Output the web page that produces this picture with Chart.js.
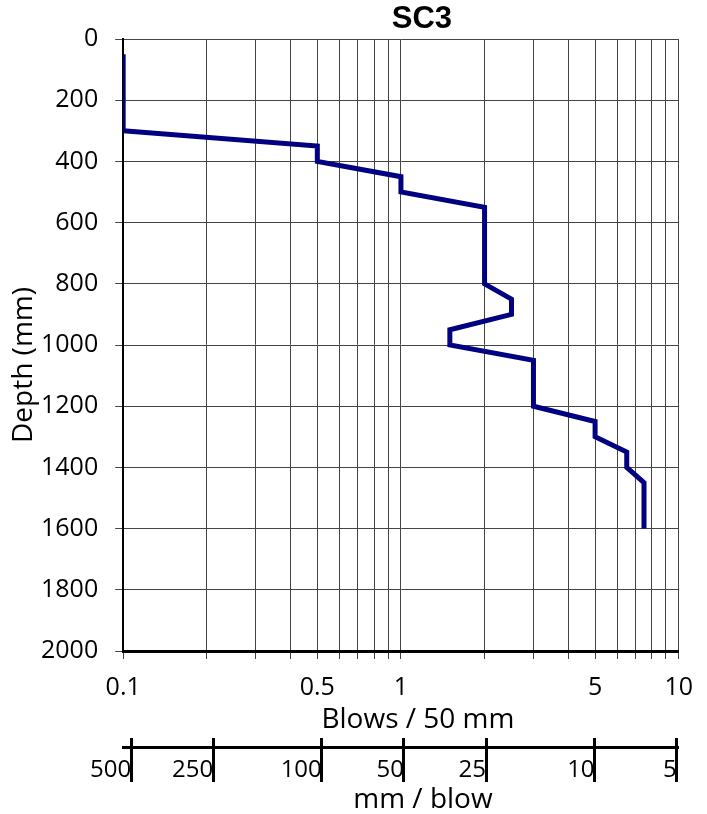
<!DOCTYPE html>
<html>
<head>
<meta charset="utf-8">
<script src="https://cdn.jsdelivr.net/npm/chart.js@4.4.1/dist/chart.umd.min.js"></script>
<style>
  html, body { margin: 0; padding: 0; background: #fff; }
  #wrap { width: 707px; height: 814px; }
</style>
</head>
<body>
<div id="wrap"><canvas id="dcpChart"></canvas></div>
<script>
// DCP test SC3 - blows per 50 mm against depth
const blows = [0.1, 0.1, 0.5, 0.5, 1, 1, 2, 2, 2.5, 2.5, 1.5, 1.5, 3, 3, 5, 5, 6.5, 6.5, 7.5, 7.5];
const depths = [50, 300, 350, 400, 450, 500, 550, 800, 850, 900, 950, 1000, 1050, 1200, 1250, 1300, 1350, 1400, 1450, 1600];

// log grid lines and the labelled ones
const blowGrid = [0.1, 0.2, 0.3, 0.4, 0.5, 0.6, 0.7, 0.8, 0.9, 1, 2, 3, 4, 5, 6, 7, 8, 9, 10];
const blowLabels = [0.1, 0.5, 1, 5, 10];

// second scale: mm per blow (= 50 / blows)
const mmTickValues = [0.1, 0.2, 0.5, 1, 2, 5, 10];
const mmTickLabels = ['500', '250', '100', '50', '25', '10', '5'];

const FONT = "'Open Sans', 'Noto Sans', sans-serif";

// the original puts its titles a little off-centre
const titleOffsets = { x: [17, 0], x2: [22, 0], y: [0, 20] };

const titleNudge = {
  id: 'titleNudge',
  afterLayout(chart) {
    const t = chart.titleBlock;
    if (t) { t.left += 21; t.right += 21; }
    Object.keys(titleOffsets).forEach(id => {
      const s = chart.scales[id];
      if (!s || s._nudged) return;
      const orig = s.drawTitle.bind(s);
      const [dx, dy] = titleOffsets[id];
      s.drawTitle = function () {
        this.ctx.save();
        this.ctx.translate(dx, dy);
        orig();
        this.ctx.restore();
      };
      s._nudged = true;
    });
  }
};

const ctx = document.getElementById('dcpChart').getContext('2d');
const chart = new Chart(ctx, {
  type: 'line',
  data: {
    datasets: [{
      label: 'SC3',
      data: blows.map((b, i) => ({ x: b, y: depths[i] })),
      borderColor: '#000080',
      borderWidth: 5,
      pointRadius: 0,
      tension: 0,
      fill: false,
      xAxisID: 'x',
      yAxisID: 'y'
    }]
  },
  options: {
    responsive: true,
    maintainAspectRatio: false,
    animation: false,
    layout: { padding: { left: 0, right: 28, top: 0, bottom: 0 } },
    plugins: {
      legend: { display: false },
      tooltip: { enabled: false },
      title: {
        display: true,
        text: 'SC3',
        fullSize: false,
        color: '#000',
        font: { family: "'Liberation Sans', Arial, sans-serif", size: 31, weight: 'bold', lineHeight: 1 },
        padding: { top: 4, bottom: 4 }
      }
    },
    scales: {
      y: {
        type: 'linear',
        reverse: true,
        min: 0,
        max: 2000,
        ticks: {
          stepSize: 200,
          color: '#000',
          padding: 17,
          font: { family: FONT, size: 25 },
          callback: v => String(v)
        },
        grid: { color: '#444', tickLength: 8 },
        border: { color: '#000', width: 2 },
        title: {
          display: true,
          text: 'Depth (mm)',
          color: '#000',
          font: { family: FONT, size: 28, lineHeight: 1 },
          padding: { top: 10, bottom: -14 }
        }
      },
      x: {
        type: 'logarithmic',
        position: 'bottom',
        weight: 0,
        min: 0.1,
        max: 10,
        afterBuildTicks: s => { s.ticks = blowGrid.map(v => ({ value: v })); },
        ticks: {
          autoSkip: false,
          maxRotation: 0,
          color: '#000',
          padding: 14,
          font: { family: FONT, size: 25 },
          callback: v => blowLabels.some(b => Math.abs(b - v) < 1e-9) ? String(v) : ''
        },
        grid: { color: '#444', tickLength: 8 },
        border: { color: '#000', width: 3 },
        title: {
          display: true,
          text: 'Blows / 50 mm',
          color: '#000',
          font: { family: FONT, size: 28, lineHeight: 1 },
          padding: { top: -11, bottom: 4 }
        }
      },
      x3: {
        type: 'logarithmic',
        position: 'bottom',
        weight: 1,
        min: 0.0935,
        max: 10.17,
        afterBuildTicks: s => { s.ticks = mmTickValues.map(v => ({ value: v })); },
        ticks: { display: false },
        grid: { drawOnChartArea: false, tickLength: 9, tickColor: '#000', tickWidth: 3 },
        border: { display: false }
      },
      x2: {
        type: 'logarithmic',
        position: 'bottom',
        weight: 2,
        min: 0.0935,
        max: 10.17,
        afterBuildTicks: s => { s.ticks = mmTickValues.map(v => ({ value: v })); },
        ticks: {
          autoSkip: false,
          maxRotation: 0,
          align: 'end',
          padding: -26.4,
          color: '#000',
          font: { family: FONT, size: 24 },
          callback: (v, i) => mmTickLabels[i]
        },
        grid: { drawOnChartArea: false, tickLength: 35, tickColor: '#000', tickWidth: 3 },
        border: { color: '#000', width: 3 },
        title: {
          display: true,
          text: 'mm / blow',
          color: '#000',
          font: { family: FONT, size: 28, lineHeight: 1 },
          padding: { top: 28, bottom: 0 }
        }
      }
    }
  },
  plugins: [titleNudge]
});
</script>
</body>
</html>
